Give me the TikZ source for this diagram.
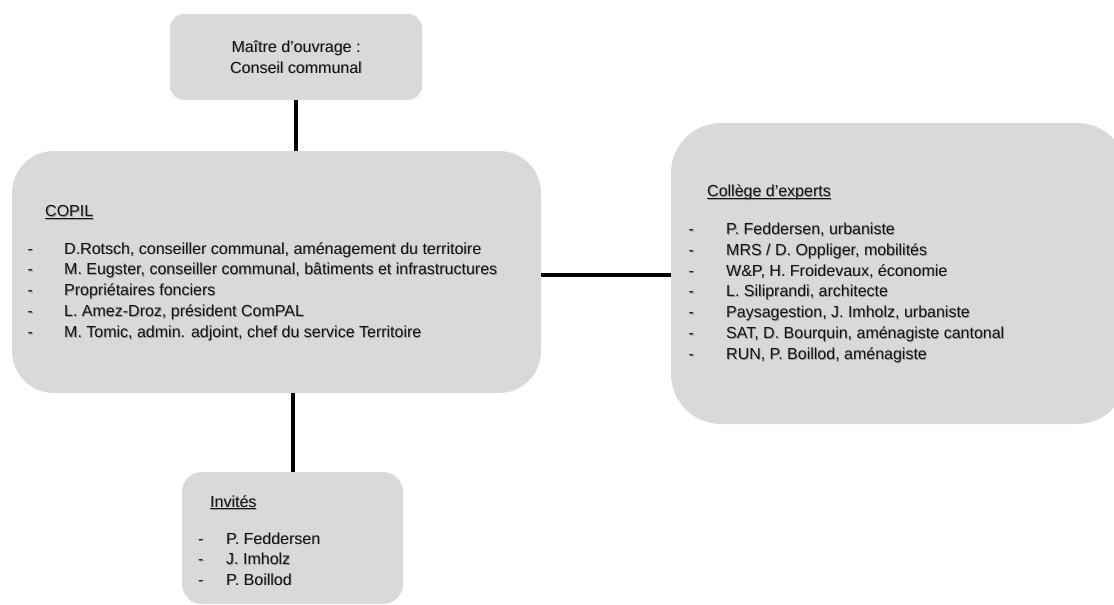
\documentclass[tikz,border=0pt]{standalone}
\usepackage{fontspec}
\setmainfont{Liberation Sans}
\definecolor{boxgray}{HTML}{D9D9D9}
\definecolor{inkcol}{HTML}{141414}
\definecolor{shadowcol}{HTML}{9A9A9A}
\newcommand\ulin[1]{\setbox0\hbox{#1}\rlap{\rule[-2.3pt]{\wd0}{0.9pt}}\box0}
\newcommand\sh[1]{\rlap{\kern0.8pt\raisebox{-0.8pt}{\color{shadowcol}#1}}#1}
\tikzset{
  box/.style={fill=boxgray, draw=none, inner sep=0pt},
  link/.style={line width=4pt, black},
  txt/.style={inner sep=0pt, anchor=base west, font=\fontsize{16}{20}\selectfont, text=inkcol},
}
\begin{document}
\begin{tikzpicture}[x=1pt,y=-1pt]
\clip (0,0) rectangle (1114,605);
% boxes
\node[box, rounded corners=14pt, minimum width=252pt, minimum height=86pt] (mo) at (296,57) {};
\node[box, rounded corners=42pt, minimum width=529pt, minimum height=242pt] (copil) at (276.5,272) {};
\node[box, rounded corners=50pt, minimum width=456pt, minimum height=301pt] (exp) at (899,273.5) {};
\node[box, rounded corners=20pt, minimum width=221pt, minimum height=132pt] (inv) at (292.5,538) {};
% connectors
\draw[link] (mo.south) -- (mo.south |- copil.north);
\draw[link] ([xshift=16.5pt]copil.south) -- ([xshift=16.5pt]copil.south |- inv.north);
\draw[link] ([yshift=-3pt]copil.east) -- ([yshift=-3pt]copil.east -| exp.west);
% top box text
\node[txt, anchor=base] (mo1) at (296,52) {\sh{Maître d’ouvrage :}};
\node[txt, anchor=base] (mo2) at (296,73) {\sh{Conseil communal}};
% COPIL
\node[txt] (copilh) at (45,216.5) {\sh{\ulin{COPIL}}};
\foreach \t [count=\i] in {{D.Rotsch, conseiller communal, aménagement du territoire},
  {M. Eugster, conseiller communal, bâtiments et infrastructures},
  {Propriétaires fonciers},
  {L. Amez-Droz, président ComPAL},
  {M. Tomic, admin. adjoint, chef du service Territoire}}{
  \node[txt] (cd\i) at (27.5,{254+20.8*(\i-1)}) {\sh{-}};
  \node[txt] (ct\i) at (64,{254+20.8*(\i-1)}) {\sh{\t}};
}
% Experts
\node[txt] (exph) at (707,196.5) {\sh{\ulin{Collège d’experts}}};
\foreach \t [count=\i] in {{P. Feddersen, urbaniste},
  {MRS / D. Oppliger, mobilités},
  {W\&P, H. Froidevaux, économie},
  {L. Siliprandi, architecte},
  {Paysagestion, J. Imholz, urbaniste},
  {SAT, D. Bourquin, aménagiste cantonal},
  {RUN, P. Boillod, aménagiste}}{
  \node[txt] (ed\i) at (688.5,{234.5+20.8*(\i-1)}) {\sh{-}};
  \node[txt] (et\i) at (726,{234.5+20.8*(\i-1)}) {\sh{\t}};
}
% Invites
\node[txt] (invh) at (210,507) {\sh{\ulin{Invités}}};
\foreach \t [count=\i] in {{P. Feddersen},{J. Imholz},{P. Boillod}}{
  \node[txt] (id\i) at (198,{544+20.5*(\i-1)}) {\sh{-}};
  \node[txt] (it\i) at (226,{544+20.5*(\i-1)}) {\sh{\t}};
}
\end{tikzpicture}
\end{document}
